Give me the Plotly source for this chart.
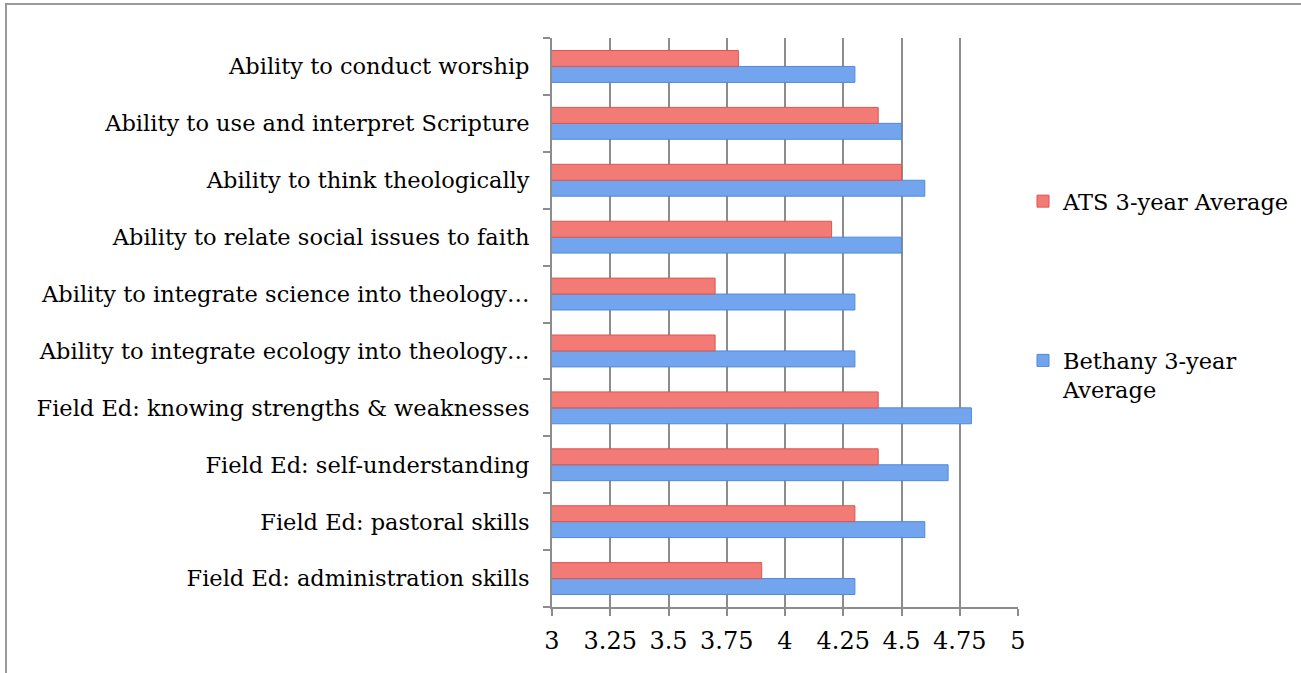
import plotly.graph_objects as go

categories = [
    "Ability to conduct worship",
    "Ability to use and interpret Scripture",
    "Ability to think theologically",
    "Ability to relate social issues to faith",
    "Ability to integrate science into theology…",
    "Ability to integrate ecology into theology…",
    "Field Ed: knowing strengths & weaknesses",
    "Field Ed: self-understanding",
    "Field Ed: pastoral skills",
    "Field Ed: administration skills",
]
ats_avg = [3.8, 4.4, 4.5, 4.2, 3.7, 3.7, 4.4, 4.4, 4.3, 3.9]
bethany_avg = [4.3, 4.5, 4.6, 4.5, 4.3, 4.3, 4.8, 4.7, 4.6, 4.3]
x_ticks = [3, 3.25, 3.5, 3.75, 4, 4.25, 4.5, 4.75, 5]
x_tick_labels = ["3", "3.25", "3.5", "3.75", "4", "4.25", "4.5", "4.75", "5"]

FONT = "DejaVu Serif"
W, H = 1301, 673
L, R, T, B = 552, 1018, 38, 607

fig = go.Figure()
fig.add_trace(go.Bar(
    y=categories, x=bethany_avg, orientation="h",
    name="Bethany 3-year<br>Average", legendgroup="b", legendrank=2,
    marker=dict(color="#72A5EE", line=dict(color="#4F89DA", width=1)),
))
fig.add_trace(go.Bar(
    y=categories, x=ats_avg, orientation="h",
    name="ATS 3-year Average", legendgroup="a", legendrank=1,
    marker=dict(color="#F27B76", line=dict(color="#DE5550", width=1)),
))

def px_x(p):
    return (p - L) / (R - L)

def px_y(p):
    return (B - p) / (B - T)

fig.add_shape(type="rect", xref="paper", yref="paper",
              x0=px_x(6), x1=px_x(1340), y0=px_y(720), y1=px_y(4),
              line=dict(color="#9a9a9a", width=2), fillcolor="rgba(0,0,0,0)",
              layer="below")

fig.update_layout(
    width=W, height=H,
    margin=dict(l=L, r=W - R, t=T, b=H - B, pad=0, autoexpand=False),
    paper_bgcolor="white", plot_bgcolor="white",
    barmode="group", bargap=0.44, bargroupgap=0,
    font=dict(family=FONT, size=22, color="black"),
    showlegend=True,
    legend=dict(x=px_x(1023), y=px_y(180), xanchor="left", yanchor="top",
                traceorder="grouped", tracegroupgap=127, valign="top",
                font=dict(family=FONT, size=22.5, color="black"),
                itemwidth=30, bgcolor="rgba(0,0,0,0)"),
    xaxis=dict(range=[3, 5], tickvals=x_ticks, ticktext=x_tick_labels,
               tickfont=dict(size=24),
               showgrid=True, gridcolor="#8c8c8c", gridwidth=2,
               showline=True, linecolor="#8c8c8c", linewidth=2,
               ticks="outside", ticklen=7, tickwidth=2, tickcolor="#8c8c8c",
               ticklabelstandoff=4, zeroline=False, fixedrange=True),
    yaxis=dict(categoryorder="array", categoryarray=categories[::-1],
               tickfont=dict(size=22.5),
               showline=True, linecolor="#8c8c8c", linewidth=2,
               ticks="outside", tickson="boundaries", ticklen=7, tickwidth=2,
               tickcolor="#8c8c8c", showgrid=False, ticklabelstandoff=16,
               fixedrange=True),
)

fig.write_html("out.html", config={"displayModeBar": False},
               post_script="document.body.style.margin='0px';document.body.style.overflow='hidden';")
